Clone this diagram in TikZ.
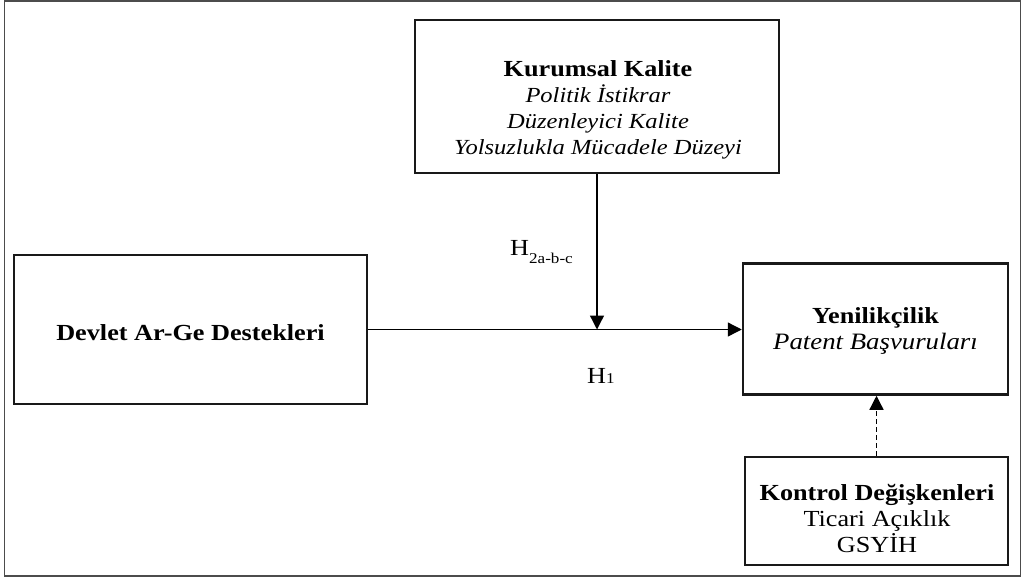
\documentclass[tikz,border=0pt]{standalone}
\usepackage{fontspec}
\setmainfont[FakeStretch=1.14]{Liberation Serif}
\usepackage{tikz}
\usetikzlibrary{calc,arrows.meta}
\tikzset{
  kutu/.style={draw, line width=2.5pt, color=black!90, inner sep=0pt},
  yazi/.style={align=center, inner sep=0pt, font=\fontsize{23}{26}\selectfont},
  ok/.style={line width=1.3pt, -{Triangle[length=14pt,width=14pt]}}
}
\newcommand{\ince}{\fontsize{21.5}{26}\selectfont\itshape}

\begin{document}
\begin{tikzpicture}[x=1pt,y=-1pt]
		%%%%% START %%%%%
		
		\useasboundingbox (0,0) rectangle (1022,579);
		\draw[line width=1.5pt, color=black!70] (4.5,0.8) rectangle (1020.5,576);
		
		% kutular
		\node[kutu, minimum width=364pt, minimum height=153pt] (kalite) at (597,96.5) {};
		\node[kutu, minimum width=353pt, minimum height=149pt] (devlet) at (190.5,329.5) {};
		\node[kutu, minimum width=265pt, minimum height=131pt] (yenilik) at (875.5,329) {};
		\node[kutu, minimum width=263pt, minimum height=108pt] (kontrol) at (876.5,511) {};
		
		% yazilar
		\node[yazi] (kaliteT) at (598,110) {\textbf{Kurumsal Kalite}\\{\ince Politik İstikrar}\\{\ince Düzenleyici Kalite}\\{\ince Yolsuzlukla Mücadele Düzeyi}};
		\node[yazi] (devletT) at (190.5,333) {\textbf{Devlet Ar-Ge Destekleri}};
		\node[yazi] (yenilikT) at (875.5,331) {\textbf{Yenilikçilik}\\{\fontsize{23.5}{26}\selectfont\itshape Patent Başvuruları}};
		\node[yazi] (kontrolT) at (877,518) {\textbf{Kontrol Değişkenleri}\\Ticari Açıklık\\GSYİH};
		
		% oklar
		\draw[ok] (devlet.east) -- (devlet.east -| yenilik.west);
		\draw[ok] (kalite.south) -- (kalite.south |- devlet.east);
		\draw[ok, dashed, dash pattern=on 5pt off 3pt] (kontrol.north) -- (kontrol.north |- yenilik.south);
		
		\node[yazi, anchor=base west] (h2) at (510,255) {H\raisebox{-8.5pt}{\fontsize{15}{15}\selectfont 2a-b-c}};
		\node[yazi, anchor=base west] (h1) at (587,383) {H{\fontsize{15}{15}\selectfont 1}};
		
		%%%%% END %%%%%
\end{tikzpicture}
\end{document}
